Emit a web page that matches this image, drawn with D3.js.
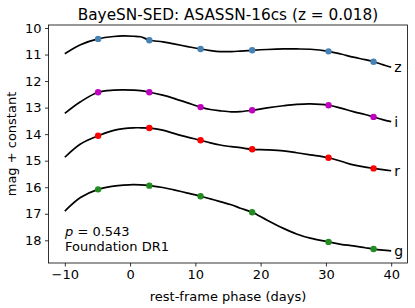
<!DOCTYPE html>
<html><head><meta charset="utf-8">
<script src="https://cdn.jsdelivr.net/npm/d3@7"></script>
<style>body{margin:0;background:#fff}svg{display:block}text{font-family:"DejaVu Sans",sans-serif;fill:#000}</style>
</head><body>
<svg id="c" width="415" height="308"></svg>
<script>
const bands = ["z", "i", "r", "g"];
const colors = ["#4682b4", "#bf00bf", "#ff0000", "#228b22"];
const obsPhase = [-4.9, 2.95, 10.8, 18.7, 30.4, 37.3];
const obsZ = [10.41, 10.46, 10.79, 10.84, 10.88, 11.27];
const obsI = [12.42, 12.42, 12.98, 13.10, 12.91, 13.35];
const obsR = [14.06, 13.77, 14.23, 14.57, 14.89, 15.29];
const obsG = [16.08, 15.94, 16.34, 16.94, 18.06, 18.33];
const curvePhase = [-10, -7.6, -4.9, -2.5, -1, 0.5, 1.6, 3, 5, 6.7, 8.8, 10.8, 12.3, 13.8, 15.5, 16.9, 18.7, 21, 23.5, 25.5, 27.6, 30.4, 32.3, 34.2, 36, 37.3, 38.7, 40];
const curveZ = [10.97, 10.63, 10.41, 10.32, 10.30, 10.31, 10.33, 10.46, 10.52, 10.60, 10.70, 10.79, 10.85, 10.89, 10.89, 10.87, 10.84, 10.81, 10.79, 10.79, 10.80, 10.88, 10.98, 11.10, 11.19, 11.27, 11.38, 11.48];
const curveI = [13.22, 12.78, 12.42, 12.34, 12.33, 12.34, 12.36, 12.42, 12.53, 12.65, 12.82, 12.98, 13.07, 13.12, 13.16, 13.15, 13.10, 13.01, 12.93, 12.88, 12.86, 12.91, 13.02, 13.15, 13.26, 13.35, 13.45, 13.53];
const curveR = [14.87, 14.37, 14.06, 13.86, 13.79, 13.76, 13.76, 13.77, 13.85, 13.97, 14.11, 14.23, 14.33, 14.41, 14.47, 14.51, 14.57, 14.59, 14.63, 14.70, 14.78, 14.89, 15.02, 15.16, 15.24, 15.29, 15.34, 15.38];
const curveG = [16.90, 16.39, 16.08, 15.96, 15.92, 15.90, 15.91, 15.94, 16.01, 16.10, 16.22, 16.34, 16.44, 16.54, 16.66, 16.79, 16.94, 17.24, 17.55, 17.76, 17.92, 18.06, 18.15, 18.21, 18.28, 18.33, 18.37, 18.40];
const xTicks = [-10, 0, 10, 20, 30, 40];
const yTicks = [10, 11, 12, 13, 14, 15, 16, 17, 18];

const obs = [obsZ, obsI, obsR, obsG];
const curves = [curveZ, curveI, curveR, curveG];

const svg = d3.select("#c");
const L = 48.5, R = 407.5, T = 25, B = 263;
const x = d3.scaleLinear().domain([-12.5, 42.5]).range([L, R]);
const y = d3.scaleLinear().domain([9.887, 18.855]).range([T, B]);

const fmt = d => (d < 0 ? "\u2212" + Math.abs(d) : String(d));
const xa = svg.append("g").attr("transform", `translate(0,${B})`)
  .call(d3.axisBottom(x).tickValues(xTicks).tickFormat(fmt).tickSize(3.5).tickPadding(3.5));
const ya = svg.append("g").attr("transform", `translate(${L},0)`)
  .call(d3.axisLeft(y).tickValues(yTicks).tickFormat(d3.format("d")).tickSize(3.5).tickPadding(3.5));
[xa, ya].forEach(a => {
  a.select(".domain").remove();
  a.selectAll("line").attr("stroke", "#000").attr("stroke-width", 0.8);
  a.selectAll("text").attr("font-size", 13).attr("font-family", "DejaVu Sans");
});

const line = d3.line().x(d => x(d[0])).y(d => y(d[1])).curve(d3.curveCatmullRom.alpha(0.5));
bands.forEach((b, k) => {
  const pts = curvePhase.map((p, j) => [p, curves[k][j]]);
  svg.append("path").attr("d", line(pts)).attr("fill", "none").attr("stroke", "#000").attr("stroke-width", 1.7);
  svg.append("g").selectAll("circle").data(obsPhase.map((p, j) => [p, obs[k][j]])).join("circle")
    .attr("cx", d => x(d[0])).attr("cy", d => y(d[1])).attr("r", 3.2).attr("fill", colors[k]);
  svg.append("text").attr("x", x(40) + 3).attr("y", y(curves[k][curves[k].length - 1]) + 5)
    .attr("font-size", 14).text(b);
});

svg.append("rect").attr("x", L).attr("y", T).attr("width", R - L).attr("height", B - T)
  .attr("fill", "none").attr("stroke", "#000").attr("stroke-width", 0.8);

svg.append("text").attr("x", (L + R) / 2).attr("y", 20).attr("text-anchor", "middle")
  .attr("font-size", 15.3).text("BayeSN-SED: ASASSN-16cs (z = 0.018)");
svg.append("text").attr("x", (L + R) / 2).attr("y", 301).attr("text-anchor", "middle")
  .attr("font-size", 13).text("rest-frame phase (days)");
svg.append("text").attr("transform", `translate(16,${(T + B) / 2}) rotate(-90)`).attr("text-anchor", "middle")
  .attr("font-size", 13).text("mag + constant");

const ann = svg.append("text").attr("x", 65).attr("y", 235.5).attr("font-size", 13);
ann.append("tspan").attr("font-style", "italic").text("p");
ann.append("tspan").text(" = 0.543");
svg.append("text").attr("x", 65).attr("y", 251).attr("font-size", 13).text("Foundation DR1");
</script>
</body></html>
